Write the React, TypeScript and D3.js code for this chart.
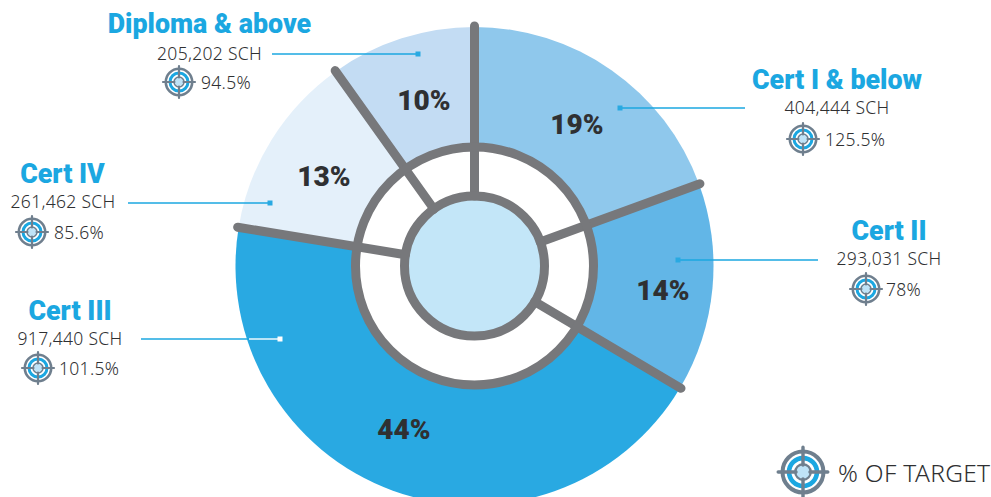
import React from "react";
import * as d3 from "d3";

const categories = ["Cert I & below", "Cert II", "Cert III", "Cert IV", "Diploma & above"];
const schValues = [404444, 293031, 917440, 261462, 205202];
const sharePercent = [19, 14, 44, 13, 10];
const targetPercent = ["125.5%", "78%", "101.5%", "85.6%", "94.5%"];
const segmentColors = ["#8fc8ec", "#62b6e7", "#29a9e2", "#e4f0fa", "#c3dcf3"];

const WIDTH = 991;
const HEIGHT = 497;
const CX = 474.5;
const CY = 266;
const GREY = "#77787b";
const ICON_GREY = "#6f7f8e";
const BLUE = "#1ba7e1";
const INK = "#2f3032";
const FONT = "'Noto Sans', sans-serif";
const BOLD = "Roboto, sans-serif";

type Callout = {
  titleX: number; titleY: number; lineY: number; lineX1: number; lineX2: number;
  dotX: number; dotColor: string; whiteFromX?: number;
  valueX: number; valueY: number; iconX: number; iconY: number; pctX: number;
  labelX: number; labelY: number;
};

// Hand-placed callout geometry, indexed like the categories.
const callouts: Callout[] = [
  { titleX: 837, titleY: 89, lineY: 108, lineX1: 620, lineX2: 745, dotX: 620, dotColor: "#29a9e2", valueX: 837, valueY: 114, iconX: 803, iconY: 139, pctX: 825, labelX: 577, labelY: 124 },
  { titleX: 889, titleY: 240, lineY: 260, lineX1: 678, lineX2: 818, dotX: 678, dotColor: "#29a9e2", valueX: 889, valueY: 265, iconX: 866, iconY: 289, pctX: 886, labelX: 663, labelY: 290 },
  { titleX: 70, titleY: 320, lineY: 339, lineX1: 141, lineX2: 280, dotX: 280, dotColor: "#ffffff", whiteFromX: 249, valueX: 70, valueY: 345, iconX: 38, iconY: 368, pctX: 59, labelX: 404, labelY: 429 },
  { titleX: 62.5, titleY: 183, lineY: 203, lineX1: 128, lineX2: 270, dotX: 270, dotColor: "#29a9e2", valueX: 63, valueY: 208, iconX: 32, iconY: 232, pctX: 54, labelX: 324, labelY: 176 },
  { titleX: 209.5, titleY: 33, lineY: 54, lineX1: 272, lineX2: 418, dotX: 418, dotColor: "#29a9e2", valueX: 209.5, valueY: 60, iconX: 179, iconY: 82, pctX: 201, labelX: 424, labelY: 100 },
];

// Crosshair target glyph used beside every percent-of-target figure.
function TargetIcon({ x, y, s = 1 }: { x: number; y: number; s?: number }) {
  return (
    <g transform={`translate(${x},${y}) scale(${s})`}>
      <circle r={13.2} fill="#fff" stroke={ICON_GREY} strokeWidth={2.6} />
      <circle r={9} fill="none" stroke={BLUE} strokeWidth={3} />
      <circle r={5} fill="#bfe3f7" stroke={ICON_GREY} strokeWidth={1.5} />
      <path d="M-16 0H-4.5M4.5 0H16M0 -16V-4.5M0 4.5V16" stroke={ICON_GREY} strokeWidth={2.2} strokeLinecap="round" />
    </g>
  );
}

export default function App() {
  const pie = d3.pie<number>().sort(null).value((d) => d);
  const slices = pie(schValues);
  const outerArc = d3.arc<d3.PieArcDatum<number>>().innerRadius(0).outerRadius(239);
  const numFmt = d3.format(",");
  const R_MID = 119;
  const R_HUB = 70;
  const R_SPOKE = 240;
  const polar = (a: number, r: number): [number, number] => [Math.sin(a) * r, -Math.cos(a) * r];

  return (
    <svg
      width={WIDTH}
      height={HEIGHT}
      viewBox={`0 0 ${WIDTH} ${HEIGHT}`}
      style={{ position: "fixed", left: 0, top: 0, background: "#fff" }}
    >
      <g transform={`translate(${CX},${CY})`}>
        {slices.map((s, i) => (
          <path key={i} d={outerArc(s) ?? ""} fill={segmentColors[i]} />
        ))}
        <circle r={R_MID} fill="#fff" />
        <circle r={R_HUB} fill="#c3e6f8" />
        {slices.map((s, i) => {
          const [x1, y1] = polar(s.startAngle, R_HUB);
          const [x2, y2] = polar(s.startAngle, R_SPOKE);
          return <line key={i} x1={x1} y1={y1} x2={x2} y2={y2} stroke={GREY} strokeWidth={9} strokeLinecap="round" />;
        })}
        <circle r={R_MID} fill="none" stroke={GREY} strokeWidth={9} />
        <circle r={R_HUB} fill="none" stroke={GREY} strokeWidth={9} />
      </g>

      {categories.map((c, i) => {
        const k = callouts[i];
        return (
          <g key={c}>
            <line x1={k.lineX1} x2={k.lineX2} y1={k.lineY} y2={k.lineY} stroke={BLUE} strokeWidth={1.4} />
            {k.whiteFromX !== undefined && (
              <line x1={k.whiteFromX} x2={k.lineX2} y1={k.lineY} y2={k.lineY} stroke="#fff" strokeWidth={1.4} />
            )}
            <rect x={k.dotX - 2.5} y={k.lineY - 2.5} width={5} height={5} fill={k.dotColor} />
            <text x={k.titleX} y={k.titleY} textAnchor="middle" fontFamily={BOLD} fontWeight={900} fontSize={26.8} fill={BLUE}>
              {c}
            </text>
            <text x={k.valueX} y={k.valueY} textAnchor="middle" fontFamily={FONT} fontWeight={300} fontSize={17.5} letterSpacing={0.3} fill={INK}>
              {numFmt(schValues[i])} SCH
            </text>
            <TargetIcon x={k.iconX} y={k.iconY} />
            <text x={k.pctX} y={k.iconY + 6.5} fontFamily={FONT} fontWeight={300} fontSize={17.5} letterSpacing={0.3} fill={INK}>
              {targetPercent[i]}
            </text>
            <text x={k.labelX} y={k.labelY + 9.5} textAnchor="middle" fontFamily={BOLD} fontWeight={900} fontSize={28} fill={INK}>
              {sharePercent[i]}%
            </text>
          </g>
        );
      })}

      <TargetIcon x={803} y={472} s={1.55} />
      <text x={838} y={482} fontFamily={FONT} fontWeight={300} fontSize={24.5} letterSpacing={0.3} fill={INK}>% OF TARGET</text>
    </svg>
  );
}
